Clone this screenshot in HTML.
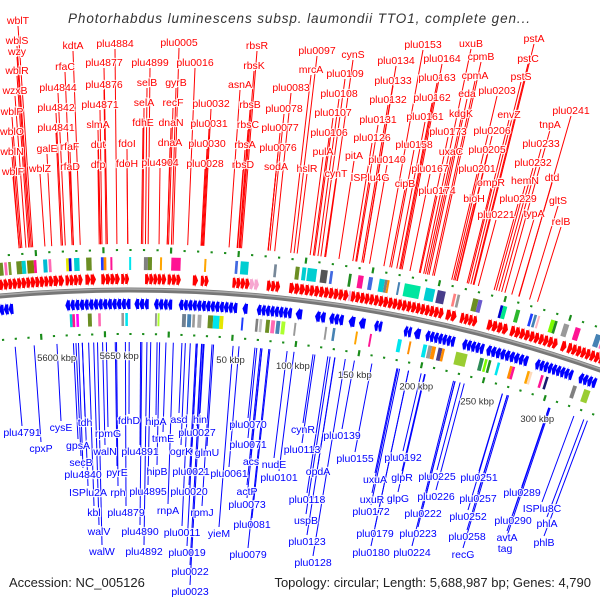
<!DOCTYPE html>
<html><head><meta charset="utf-8"><style>
html,body{margin:0;padding:0;background:#fff;width:600px;height:600px;overflow:hidden;}
svg{display:block;font-family:"Liberation Sans",sans-serif;overflow:hidden;}
.lbl{paint-order:stroke;stroke:#fff;stroke-width:2.2px;stroke-opacity:0.85;}
</style></head><body>
<svg id="map" width="600" height="600" viewBox="0 0 600 600">
<rect width="600" height="600" fill="#fff"/>
<text x="299" y="23" text-anchor="middle" font-size="13.5" font-style="italic" fill="#333" textLength="462" lengthAdjust="spacing">Photorhabdus luminescens subsp. laumondii TTO1, complete gen...</text>
<g id="rings"></g>
<g id="lines"></g>
<g id="labels"></g>
<text x="9" y="587" font-size="13" fill="#222">Accession: NC_005126</text>
<text x="591" y="587" font-size="13" fill="#222" text-anchor="end">Topology: circular; Length: 5,688,987 bp; Genes: 4,790</text>
</svg>
<script>
// ---- data (kbp) ----
const genomeLength = 5689;
const tickLabelValues = [5600, 5650, 50, 100, 150, 200, 250, 300];
const tickLabelTexts = ["5600 kbp","5650 kbp","50 kbp","100 kbp","150 kbp","200 kbp","250 kbp","300 kbp"];
const forwardBlocks = [[5560,5601],[5601,5609],[5610,5623],[5625,5633],[5637,5651],[5652,5658],[5670,5686],[5687,8],[17,21],[23,29],[47,50],[50,60],[73,83],[90,102],[102,135],[137,187],[187,208],[210,218],[221,234],[242,254],[254,258],[260,279],[279,297],[300,304],[305,334]];
const forwardPink = [[60,67],[135,137]];
const reverseBlocks = [[5558,5569],[5609,5659],[5662,5673],[5677,2],[7,52],[56,60],[67,94],[97,102],[112,120],[123,134],[138,143],[146,151],[158,164],[181,187],[189,194],[198,221],[227,244],[246,279],[285,315],[320,334]];
const outerFeatPos = [5561,5565,5568,5574,5578,5582,5587,5594,5598,5611,5613,5617,5626,5637,5639,5644,5658,5669,5672,5681,0.4,25,48,52,77,93,98,102,112,119,133,140,148,156,160,162,170,175,191,200,212,215,227,231,248,250,260,271,274,277,287,290,297,306,322,327];
const outerFeatLen = [3,2,2,4,3,5,2,3,2,2,2,4,4,2,2,1.5,1.5,3,3,1.5,7,1.5,2,6,2,3,3,7,5,2,2,4,3,4,2,1.5,1.5,12,7,6,2,2,4,3,2,3,3,2,2,1.5,3,2,4,4,4,3];
const outerFeatColor = ['#6b8e23','#ff69b4','#7a9a2a','#6b8e23','#00ced1','#808000','#ff1493','#00bcd4','#ff69b4','#e6e600','#0000cd','#00ced1','#6b8e23','#1e3cff','#ff8c00','#ff1493','#00e5ee','#808080','#6b8e23','#ffa500','#ff1493','#ffa500','#4169e1','#00ced1','#778899','#6b8e23','#00ced1','#00ced1','#555555','#4169e1','#228b22','#ff1493','#4169e1','#00ced1','#808080','#ff8c00','#4682b4','#00e6a0','#00ced1','#483d8b','#ff7f7f','#999999','#6b8e23','#6a5acd','#0000cd','#00e68a','#2db82d','#1e3cff','#4682b4','#ffb6c1','#7cfc00','#228b22','#999999','#ff1493','#4682b4','#ff69b4'];
const innerFeatPos = [5612,5614,5617,5626,5634,5652,5655,5678,5680,10,14,18,22,30,34,39,56,67,70,75,79,83,87,97,121,127,145,156,178,187,198,202,205,210,213,224,243,247,250,257,267,269,281,283,292,296,318,327];
const innerFeatLen = [2,2,2,3,2,2,2,1.5,1.5,3,3,2,3,4,5,3,1.5,2,2,3,3,3,3,1.5,1.5,2,1.5,1.5,3,1.5,3,3,3,3,2,9,3,2,2,2,2,2,2,2,2,2,3,5];
const innerFeatColor = ['#00ced1','#ff1493','#ff00ff','#6b8e23','#ff69b4','#999999','#00e5ee','#999999','#adff2f','#708090','#4682b4','#999999','#aaaaaa','#6b8e23','#00e5ee','#e6e600','#1e3cff','#808080','#c0c0c0','#6b8e23','#ff69b4','#4682b4','#adff2f','#999999','#999999','#4682b4','#ffa500','#ff1493','#00e5ee','#ff8c00','#00e5ee','#999999','#ff8c00','#483d8b','#ff8c00','#9acd32','#2e8b57','#7cfc00','#228b22','#00e5ee','#ff8c00','#ff1493','#ffa500','#ffdab9','#ff1493','#191970','#808080','#9acd32'];
const redNames = ["wblT","wblS","wzy","wblR","wzxB","wblP","wblO","wblN","wblF","wblZ","galE","rfaF","rfaD","plu4841","plu4842","plu4844","rfaC","kdtA","plu4884","plu4877","plu4876","plu4871","slmA","dut","dfp","fdoI","fdoH","plu4899","selB","selA","fdhE","plu4904","plu0005","gyrB","recF","dnaN","dnaA","plu0016","plu0032","plu0031","plu0030","plu0028","rbsR","rbsK","asnA","rbsB","rbsC","rbsA","rbsD","plu0083","plu0078","plu0077","plu0076","sodA","plu0097","mrcA","plu0109","cynS","plu0108","plu0107","plu0106","pulA","cynT","hslR","pitA","ISPlu4G","plu0126","plu0140","plu0131","plu0132","plu0133","plu0134","plu0153","plu0164","plu0163","plu0162","plu0161","plu0158","cipB","plu0167","plu0174","plu0173","uxaC","kdgK","eda","cpmA","cpmB","uxuB","plu0203","plu0206","plu0205","plu0201","bioH","ompR","plu0221","envZ","pstA","pstC","pstS","plu0241","tnpA","plu0233","plu0232","hemN","dtd","plu0229","typA","gltS","relB"];
const redPos = [5587,5586,5585,5584,5582,5579,5578,5577,5577,5596,5601,5617,5617,5608,5609,5611,5616,5622,5649,5642,5641,5638,5637,5637,5636,5657,5657,5672,5670,5668,5667,5680,1.3,0.1,5687,5686,5686,12.1,24,23.3,22.6,21.9,51.8,50.9,42.6,50.2,49.9,48.8,48.5,76.3,72.9,71.5,71.4,71.3,90.6,88.1,110.5,114,108.3,105.8,104.9,102.5,113.3,92.9,123.9,137.1,134.2,146.7,136.4,140.9,142.1,142,157.4,171,170,169.2,167,163.1,161.8,176.9,184.6,183.9,188.6,190,191.2,193.9,195.1,187.2,209.8,212.5,212.1,208.3,210.8,219.9,228.4,221,225.1,224.5,222.8,259.4,248.6,246.1,244,242,259.1,240.4,253.8,267.4,273.5];
const blueNames = ["plu4791","cpxP","cysE","tdh","gpsA","rpmG","walN","secB","plu4840","pyrE","ISPlu2A","rph","kbl","plu4879","walV","plu4890","walW","plu4892","fdhD","plu4891","hipA","trmE","hipB","plu4895","rnpA","asd","hin","plu0027","ogrK","glmU","plu0021","plu0020","rpmJ","plu0011","plu0019","plu0022","plu0023","yieM","plu0061","plu0070","plu0071","acs","actP","plu0073","plu0081","plu0079","nudE","plu0101","cynR","plu0113","plu0139","plu0155","opdA","plu0118","uspB","plu0123","plu0128","uxuA","glpR","plu0192","uxuR","glpG","plu0172","plu0179","plu0223","plu0180","plu0224","plu0225","plu0226","plu0222","plu0251","plu0257","plu0252","plu0258","recG","plu0289","plu0290","avtA","tag","ISPlu8C","phlA","phlB"];
const bluePos = [5568,5583,5601,5621,5614,5640,5637,5616,5618,5647,5621,5648,5626,5655,5630,5668,5633,5672,5658,5667,5680,5687,5682,5675,3.8,10.6,28.1,26.1,13.3,35.6,22.7,21.8,34.4,17.2,22.7,26.4,27.4,51,55.7,68.3,69.8,73.8,72.8,73.9,80.2,79.3,93.8,99.3,114.4,115.9,147.4,161.4,131.9,126.2,128,131.7,140.1,181.5,203.8,201,182.3,204.3,183.6,190.9,228.4,190.8,227.2,232.6,235.9,228.5,267,271.1,267.1,271,272.1,305.6,305.6,305.2,306.4,326.1,334.4,337.4];

// ---- layout (label anchor pixels, not data) ----
const redLayout = [[18,20],[17,40],[17,51],[17,70],[15,90],[12,111],[12,131],[12,151],[13,171],[40,168],[47,148],[70,146],[70,166],[56,127],[56,107],[58,87],[65,66],[73,45],[115,43],[104,62],[104,84],[100,104],[98,124],[98,144],[98,164],[127,143],[127,163],[150,62],[147,82],[144,102],[143,122],[160,162],[179,42],[176,82],[173,102],[171,122],[170,142],[195,62],[211,103],[209,123],[207,143],[205,163],[257,45],[254,65],[240,84],[250,104],[248,124],[245,144],[243,164],[291,87],[284,108],[280,127],[278,147],[276,166],[317,50],[311,69],[345,73],[353,54],[339,93],[333,112],[329,132],[323,151],[336,173],[307,168],[354,155],[370,177],[372,137],[387,159],[378,119],[388,99],[393,80],[396,60],[423,44],[442,58],[437,77],[432,97],[425,116],[414,144],[405,183],[430,168],[437,190],[448,131],[451,151],[461,113],[467,93],[475,75],[481,56],[471,43],[497,90],[492,130],[487,149],[477,168],[474,198],[491,182],[496,214],[509,114],[534,38],[528,58],[521,76],[571,110],[550,124],[541,143],[533,162],[525,180],[552,177],[518,198],[534,213],[558,200],[561,221]];
const blueLayout = [[22,432],[41,448],[61,427],[85,422],[78,445],[108,433],[105,451],[81,462],[83,474],[117,472],[88,492],[118,492],[94,512],[126,512],[99,531],[140,531],[102,551],[144,551],[129,420],[140,451],[156,421],[163,438],[157,471],[148,491],[168,510],[179,419],[200,419],[197,432],[181,451],[207,452],[191,471],[189,491],[202,512],[182,532],[187,552],[190,571],[190,591],[219,533],[229,473],[248,424],[248,444],[251,461],[247,491],[247,504],[252,524],[248,554],[274,464],[279,477],[303,429],[302,449],[342,435],[355,458],[318,471],[307,499],[306,520],[307,541],[313,562],[375,479],[402,477],[403,457],[372,499],[398,498],[371,511],[375,533],[418,533],[371,552],[412,552],[437,476],[436,496],[423,513],[479,477],[478,498],[468,516],[467,536],[463,554],[522,492],[513,520],[507,537],[505,548],[542,508],[547,523],[544,542]];

// ---- axis ----
const CX = 130, CY = 1710, R = 1420;
function norm(k){ return k > genomeLength/2 ? k - genomeLength : k; }
function ang(k){ return 0.02815 + norm(k) * 0.000927; }
function pt(k, r){ const a = ang(k); return [CX + r*Math.sin(a), CY - r*Math.cos(a)]; }
function f(v){ return v.toFixed(2); }
const NS = "http://www.w3.org/2000/svg";
function mk(tag, parent){ const e = document.createElementNS(NS, tag); parent.appendChild(e); return e; }
function arcBand(k0, k1, r0, r1){
  const a = pt(k0,r0), b = pt(k1,r0), c = pt(k1,r1), d = pt(k0,r1);
  return "M"+f(a[0])+","+f(a[1])+"L"+f(b[0])+","+f(b[1])+"L"+f(c[0])+","+f(c[1])+"L"+f(d[0])+","+f(d[1])+"Z";
}
function arcPath(k0, k1, r){
  const a = pt(k0, r), b = pt(k1, r);
  return "M"+f(a[0])+","+f(a[1])+"A"+r+","+r+" 0 0 1 "+f(b[0])+","+f(b[1]);
}
function arrows(k0, k1, rc, dir){
  let s = norm(k0), e = norm(k1);
  const n = Math.max(1, Math.round((e - s) / 3.5));
  const step = (e - s) / n;
  let d = "";
  for (let i = 0; i < n; i++){
    const a = s + i*step, b = a + step;
    const tip = Math.min(step*0.55, 3);
    let p;
    if (dir > 0){
      p = [pt(a,rc-5),pt(b-tip,rc-5),pt(b-tip,rc-6.5),pt(b,rc),pt(b-tip,rc+6.5),pt(b-tip,rc+5),pt(a,rc+5)];
    } else {
      p = [pt(b,rc-5),pt(a+tip,rc-5),pt(a+tip,rc-6.5),pt(a,rc),pt(a+tip,rc+6.5),pt(a+tip,rc+5),pt(b,rc+5)];
    }
    d += "M" + p.map(q => f(q[0])+","+f(q[1])).join("L") + "Z";
  }
  return d;
}
const rings = document.getElementById("rings");
const lines = document.getElementById("lines");
const labels = document.getElementById("labels");

const bb = mk("path", rings);
bb.setAttribute("d", arcPath(5540, 345, R));
bb.setAttribute("fill", "none"); bb.setAttribute("stroke", "#777"); bb.setAttribute("stroke-width", "5");


const bb2 = mk("path", rings);
bb2.setAttribute("d", arcPath(5540, 345, R+1));
bb2.setAttribute("fill", "none"); bb2.setAttribute("stroke", "#aaa"); bb2.setAttribute("stroke-width", "1.5");



forwardBlocks.forEach(b => {
  const p = mk("path", rings);
  p.setAttribute("d", arrows(b[0], b[1], 1431, 1));
  p.setAttribute("fill", "#f00");
  
  
});
forwardPink.forEach(b => {
  const p = mk("path", rings);
  p.setAttribute("d", arrows(b[0], b[1], 1431, 1));
  p.setAttribute("fill", "#f7a6d0");
  
  
});
reverseBlocks.forEach(b => {
  const p = mk("path", rings);
  p.setAttribute("d", arrows(b[0], b[1], 1406, -1));
  p.setAttribute("fill", "#00f");
  
  
});
outerFeatPos.forEach((k, i) => {
  const p = mk("path", rings);
  p.setAttribute("d", arcBand(k, k + outerFeatLen[i], 1440, 1453));
  p.setAttribute("fill", outerFeatColor[i]);
  
  
});
innerFeatPos.forEach((k, i) => {
  const p = mk("path", rings);
  p.setAttribute("d", arcBand(k, k + innerFeatLen[i], 1384, 1397));
  p.setAttribute("fill", innerFeatColor[i]);
  
  
});
for (let k = -140; k <= 340; k += 10){
  const big = (k % 50 === 0);
  [[1460, big?6:2], [1376, big?6:2]].forEach(([r, h]) => {
    const p = mk("path", rings);
    const a = pt(k, r - h/2), b = pt(k, r + h/2);
    p.setAttribute("d", "M"+f(a[0])+","+f(a[1])+"L"+f(b[0])+","+f(b[1]));
    p.setAttribute("stroke", "#1a8c1a"); p.setAttribute("stroke-width", "2.2");
    
    
  });
}
tickLabelValues.forEach((k, i) => {
  const q = pt(k, 1351);
  const t = mk("text", labels);
  t.setAttribute("x", f(q[0])); t.setAttribute("y", f(q[1]));
  t.setAttribute("text-anchor", "middle"); t.setAttribute("font-size", "9.5"); t.setAttribute("fill", "#333");
  t.setAttribute("class", "lbl");
  t.textContent = tickLabelTexts[i];
  
  
});
redNames.forEach((n, i) => {
  const [x, y] = redLayout[i];
  const e = pt(redPos[i], 1466);
  const l = mk("line", lines);
  l.setAttribute("x1", x); l.setAttribute("y1", y + 6);
  l.setAttribute("x2", f(e[0])); l.setAttribute("y2", f(e[1]));
  l.setAttribute("stroke", "#f00"); l.setAttribute("stroke-width", "1");
  
  
  const t = mk("text", labels);
  t.setAttribute("x", x); t.setAttribute("y", y + 4);
  t.setAttribute("text-anchor", "middle"); t.setAttribute("font-size", "10.5"); t.setAttribute("fill", "#f00");
  t.setAttribute("class", "lbl");
  t.textContent = n;
  
  
});
blueNames.forEach((n, i) => {
  const [x, y] = blueLayout[i];
  const s = pt(bluePos[i], 1368);
  const l = mk("line", lines);
  l.setAttribute("x1", f(s[0])); l.setAttribute("y1", f(s[1]));
  l.setAttribute("x2", x); l.setAttribute("y2", y - 6);
  l.setAttribute("stroke", "#00f"); l.setAttribute("stroke-width", "1");
  
  
  const t = mk("text", labels);
  t.setAttribute("x", x); t.setAttribute("y", y + 4);
  t.setAttribute("text-anchor", "middle"); t.setAttribute("font-size", "10.5"); t.setAttribute("fill", "#00f");
  t.setAttribute("class", "lbl");
  t.textContent = n;
  
  
});
</script>
</body></html>
